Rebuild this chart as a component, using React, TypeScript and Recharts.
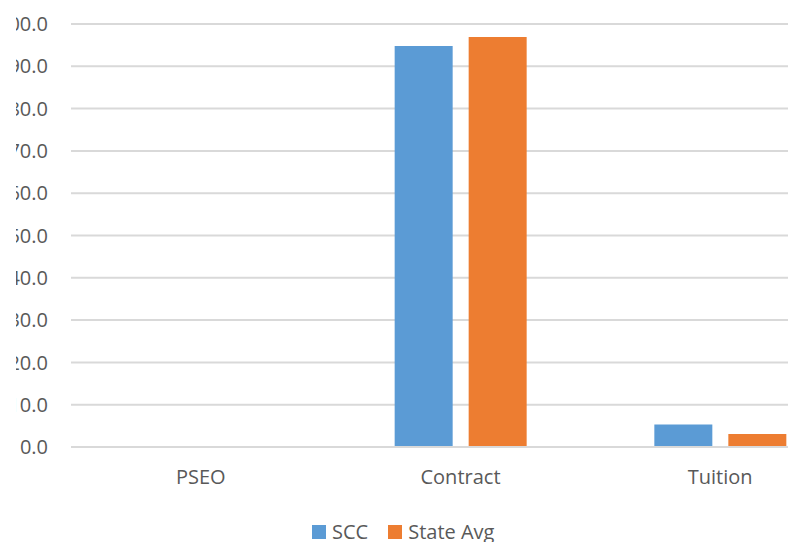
import { BarChart, Bar, XAxis, YAxis, CartesianGrid } from 'recharts';

const categories = ['PSEO', 'Contract', 'Tuition'];
const sccValues = [0, 94.8, 5.3];
const stateAvgValues = [0.1, 96.9, 3.1];
const yTicks = [0, 10, 20, 30, 40, 50, 60, 70, 80, 90, 100];

const BLUE = '#5b9bd5';
const ORANGE = '#ed7d31';
const TEXT = '#595959';
const FONT = "'Open Sans', sans-serif";

const data = categories.map((name, i) => ({
  name,
  scc: sccValues[i],
  stateAvg: stateAvgValues[i],
}));

const legendItems = [
  { label: 'SCC', color: BLUE },
  { label: 'State Avg', color: ORANGE },
];

// the chart frame starts a little in from the page edge and crops the axis labels
const CLIP_LEFT = 16;

export default function App() {
  return (
    <div
      style={{
        position: 'absolute',
        left: 0,
        top: 0,
        width: 788,
        height: 542,
        overflow: 'hidden',
        background: '#fff',
        fontFamily: FONT,
      }}
    >
      <div
        style={{
          position: 'absolute',
          left: CLIP_LEFT,
          top: 0,
          width: 788 - CLIP_LEFT,
          height: 542,
          overflow: 'hidden',
        }}
      >
        <div style={{ position: 'absolute', left: -60 - CLIP_LEFT, top: 0 }}>
          <BarChart
            width={910}
            height={542}
            data={data}
            margin={{ top: 24, right: 0, bottom: 0, left: 0 }}
            barCategoryGap={64}
            barGap={16}
          >
            <CartesianGrid vertical={false} stroke="#d9d9d9" strokeWidth={2} />
            <XAxis
              dataKey="name"
              height={95}
              axisLine={{ stroke: '#d9d9d9', strokeWidth: 2 }}
              tickLine={false}
              tickSize={0}
              tickMargin={23}
              tick={{ fill: TEXT, fontSize: 20, fontFamily: FONT }}
            />
            <YAxis
              width={131}
              domain={[0, 100]}
              ticks={yTicks}
              interval={0}
              axisLine={false}
              tickLine={false}
              tickSize={0}
              tickMargin={23}
              tickFormatter={(v: number) => v.toFixed(1)}
              tick={{ fill: TEXT, fontSize: 20, fontFamily: FONT }}
            />
            <Bar dataKey="scc" name="SCC" fill={BLUE} isAnimationActive={false} />
            <Bar dataKey="stateAvg" name="State Avg" fill={ORANGE} isAnimationActive={false} />
          </BarChart>
        </div>
      </div>
      <div
        style={{
          position: 'absolute',
          left: 312,
          top: 518,
          display: 'flex',
          alignItems: 'center',
          fontSize: 20,
          color: TEXT,
          whiteSpace: 'nowrap',
        }}
      >
        {legendItems.map((item, i) => (
          <div
            key={item.label}
            style={{ display: 'flex', alignItems: 'center', marginLeft: i === 0 ? 0 : 20 }}
          >
            <span
              style={{ width: 14, height: 14, background: item.color, marginRight: 6, display: 'inline-block' }}
            />
            <span>{item.label}</span>
          </div>
        ))}
      </div>
    </div>
  );
}
